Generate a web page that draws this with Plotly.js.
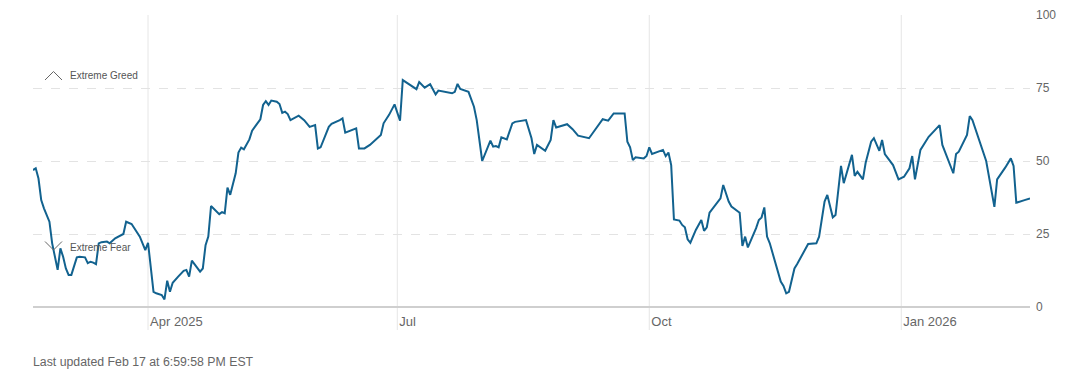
<!DOCTYPE html>
<html>
<head>
<meta charset="utf-8">
<script src="https://cdn.plot.ly/plotly-3.0.1.min.js"></script>
<style>
html,body{margin:0;padding:0;background:#fff;}
#chart{width:1071px;height:378px;}
</style>
</head>
<body>
<div id="chart"></div>
<script>
const dates = [
"2025-02-18","2025-02-19","2025-02-20","2025-02-21","2025-02-22","2025-02-24","2025-02-25","2025-02-27","2025-02-28",
"2025-03-01","2025-03-02","2025-03-03","2025-03-04","2025-03-06","2025-03-07","2025-03-09","2025-03-10","2025-03-11",
"2025-03-12","2025-03-13","2025-03-14","2025-03-15","2025-03-17","2025-03-18","2025-03-20","2025-03-23","2025-03-24",
"2025-03-26","2025-03-29","2025-03-31","2025-04-01","2025-04-02","2025-04-03","2025-04-04","2025-04-06","2025-04-07",
"2025-04-08","2025-04-09","2025-04-10","2025-04-12","2025-04-14","2025-04-15","2025-04-16","2025-04-17","2025-04-20",
"2025-04-21","2025-04-22","2025-04-23","2025-04-24","2025-04-27","2025-04-28","2025-04-29","2025-04-30","2025-05-01",
"2025-05-03","2025-05-04","2025-05-05","2025-05-06","2025-05-08","2025-05-09","2025-05-12","2025-05-13","2025-05-14",
"2025-05-15","2025-05-16","2025-05-18","2025-05-19","2025-05-20","2025-05-21","2025-05-22","2025-05-23","2025-05-26",
"2025-05-27","2025-05-28","2025-05-30","2025-06-01","2025-06-02","2025-06-03","2025-06-06","2025-06-07","2025-06-10",
"2025-06-11","2025-06-12","2025-06-16","2025-06-17","2025-06-19","2025-06-21","2025-06-23","2025-06-25","2025-06-26",
"2025-06-28","2025-06-30","2025-07-02","2025-07-03","2025-07-08","2025-07-09","2025-07-11","2025-07-13","2025-07-15",
"2025-07-16","2025-07-21","2025-07-22","2025-07-23","2025-07-24","2025-07-27","2025-07-29","2025-07-30","2025-08-01",
"2025-08-03","2025-08-04","2025-08-05","2025-08-06","2025-08-07","2025-08-08","2025-08-10","2025-08-12","2025-08-13",
"2025-08-17","2025-08-19","2025-08-20","2025-08-21","2025-08-24","2025-08-26","2025-08-27","2025-08-28","2025-09-01",
"2025-09-03","2025-09-05","2025-09-09","2025-09-11","2025-09-14","2025-09-16","2025-09-18","2025-09-22","2025-09-23",
"2025-09-24","2025-09-25","2025-09-26","2025-09-29","2025-09-30","2025-10-01","2025-10-02","2025-10-06","2025-10-07",
"2025-10-08","2025-10-09","2025-10-10","2025-10-12","2025-10-13","2025-10-14","2025-10-15","2025-10-16","2025-10-18",
"2025-10-20","2025-10-21","2025-10-22","2025-10-23","2025-10-27","2025-10-28","2025-10-30","2025-10-31","2025-11-03",
"2025-11-04","2025-11-05","2025-11-06","2025-11-09","2025-11-10","2025-11-11","2025-11-12","2025-11-13","2025-11-14",
"2025-11-18","2025-11-19","2025-11-20","2025-11-21","2025-11-23","2025-11-24","2025-11-28","2025-12-01","2025-12-02",
"2025-12-04","2025-12-05","2025-12-07","2025-12-08","2025-12-10","2025-12-11","2025-12-14","2025-12-15","2025-12-16",
"2025-12-18","2025-12-19","2025-12-21","2025-12-22","2025-12-24","2025-12-25","2025-12-26","2025-12-29","2025-12-31",
"2026-01-02","2026-01-04","2026-01-05","2026-01-06","2026-01-08","2026-01-11","2026-01-15","2026-01-16","2026-01-18",
"2026-01-20","2026-01-21","2026-01-22","2026-01-25","2026-01-26","2026-01-27","2026-01-30","2026-02-01","2026-02-04",
"2026-02-05","2026-02-08","2026-02-10","2026-02-11","2026-02-12","2026-02-15","2026-02-17"
];
const scores = [
46.9,47.5,44,36.6,33.8,29.2,21.8,12.7,20.1,
17.2,13.2,11,11,17,17.2,17,15,15.5,
15.2,14.7,21.8,22.2,22.4,21.8,23.5,25,29.2,
28.4,24.1,19.5,22,13.8,5.2,4.7,4.1,2.6,
9,5.2,8.3,10.4,12.4,12.7,10.4,15.9,12.1,
13.2,21.2,24.1,34.6,31.8,32.5,32.1,40.9,38.4,
45.8,52.9,54.6,54,57.4,60.4,64.3,69.2,70.5,
69.2,70.7,70.3,69.5,66.5,66.9,66.1,64,65.5,
64.6,64,61.7,62.3,54.3,54.7,61.7,62.7,64,
64.6,59.7,61.2,54.3,54.3,55.5,57.2,58.9,62.9,
65.8,69.4,63.8,77.7,74.6,77,75.1,76.3,72.8,
74.1,73.2,73.7,76.4,74.7,73.7,68.6,64,50,
54.3,57,54.9,55.1,54.7,58.1,57.4,62.9,63.4,
64,57.8,52.4,55.5,53.5,57.2,64,61.5,62.6,
60.9,58.7,57.8,60.4,64.3,63.8,66.3,66.3,56.6,
54.7,50.3,51.3,50.9,51.7,54.7,52.4,53.8,51.7,
52.9,48.6,30,29.6,28.1,27.3,23.2,22,26.4,
29.8,26.1,27.3,32.3,37.2,41.8,36.1,34.4,32.3,
20.9,24.1,20.4,27,29.8,30.7,34.1,24.1,21.8,
8.7,7.2,4.7,5.2,13.2,14.7,21.6,21.8,24.1,
36.1,38.4,30.7,31.5,48.3,42.4,52.1,44.9,46.3,
43.7,49.4,56.6,57.8,53.5,57.2,52.4,48.6,43.7,
44.6,47.5,51.7,43.7,53.8,58.3,62.3,55.5,50.6,
45.8,52.4,53.2,58.9,65.4,64,55.8,50,34.3,
43.7,47.8,50.9,48.3,35.7,36.6,37.2
];
const xTickVals = ["2025-04-01","2025-07-01","2025-10-01","2026-01-01"];
const xTickText = ["Apr 2025","Jul","Oct","Jan 2026"];
const yTickVals = [0,25,50,75,100];
const zoneLabels = ["Extreme Greed","Extreme Fear"];
const footerText = "Last updated Feb 17 at 6:59:58 PM EST";

const FONT = "Liberation Sans, Arial, sans-serif";
const W = 1071, H = 378;
const M = {l:33, r:41, t:15, b:71};
const pw = W - M.l - M.r, ph = H - M.t - M.b;
const px = v => (v - M.l) / pw;       // pixel x -> paper
const py = v => (H - M.b - v) / ph;   // pixel y -> paper

const shapes = [];
xTickVals.forEach(d => {
  shapes.push({type:'line', xref:'x', yref:'paper', x0:d, x1:d, y0:-23/ph, y1:1,
    line:{color:'#e6e6e6', width:1}, layer:'below'});
});
shapes.push({type:'path', xref:'paper', yref:'paper',
  path:`M ${px(45)},${py(80)} L ${px(53.5)},${py(71.5)} L ${px(62)},${py(80)}`,
  line:{color:'#666', width:1}});
shapes.push({type:'path', xref:'paper', yref:'paper',
  path:`M ${px(45)},${py(241.5)} L ${px(53.5)},${py(250)} L ${px(62)},${py(241.5)}`,
  line:{color:'#666', width:1}});

const annotations = [
  {xref:'paper', yref:'paper', x:px(68), y:py(76), xanchor:'left', yanchor:'middle',
   text:zoneLabels[0], showarrow:false, font:{family:FONT, size:10, color:'#555'}},
  {xref:'paper', yref:'paper', x:px(68), y:py(247.5), xanchor:'left', yanchor:'middle',
   text:zoneLabels[1], showarrow:false, font:{family:FONT, size:10, color:'#555'}},
  {xref:'paper', yref:'paper', x:px(31), y:py(362), xanchor:'left', yanchor:'middle',
   text:footerText, showarrow:false, font:{family:FONT, size:12.3, color:'#666'}}
];

const trace = {
  x: dates, y: scores, type:'scatter', mode:'lines',
  line:{color:'#12628f', width:2}, hoverinfo:'skip'
};

const layout = {
  width:W, height:H,
  margin:{l:M.l, r:M.r, t:M.t, b:M.b, pad:0},
  paper_bgcolor:'#fff', plot_bgcolor:'#fff',
  showlegend:false,
  font:{family:FONT, size:12, color:'#666'},
  xaxis:{
    type:'date', range:["2025-02-18","2026-02-17"],
    tickvals:xTickVals, ticktext:xTickText,
    ticklabelposition:'outside right',
    ticklabelstandoff:5, ticklabelshift:2,
    showgrid:false, zeroline:false, showline:false, ticks:'',
    tickfont:{family:FONT, size:13, color:'#666'}
  },
  yaxis:{
    range:[0,100], side:'right', tickvals:yTickVals,
    ticklabelstandoff:5,
    showgrid:true, gridcolor:'#e3e3e3', griddash:'dash', gridwidth:1,
    zeroline:true, zerolinecolor:'#cfcfcf', zerolinewidth:2,
    showline:false, ticks:'', fixedrange:true,
    tickfont:{family:FONT, size:12, color:'#666'}
  },
  shapes, annotations
};

Plotly.newPlot('chart', [trace], layout, {displayModeBar:false, staticPlot:true});
</script>
</body>
</html>
